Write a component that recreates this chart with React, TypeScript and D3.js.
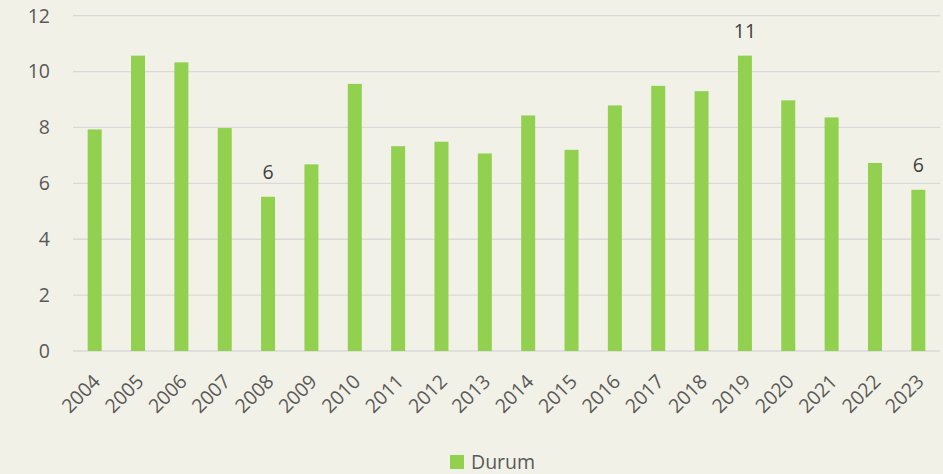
import React from "react";
import * as d3 from "d3";

const years = ["2004","2005","2006","2007","2008","2009","2010","2011","2012","2013","2014","2015","2016","2017","2018","2019","2020","2021","2022","2023"];
const durum = [7.93,10.57,10.33,7.98,5.52,6.68,9.56,7.33,7.49,7.07,8.43,7.2,8.79,9.49,9.3,10.57,8.97,8.36,6.73,5.77];
const labelled = ["2008","2019","2023"];
const yTicks = [0,2,4,6,8,10,12];
const seriesName = "Durum";

const W = 943, H = 474;
const FONT = "'Open Sans', sans-serif";

export default function App() {
  const x = d3.scaleBand<string>().domain(years).range([73, 940]).paddingInner(0.677).paddingOuter(0.3385);
  const y = d3.scaleLinear().domain([0, 12]).range([351, 15.7]);
  return (
    <svg width={W} height={H} style={{ position: "absolute", left: 0, top: 0, background: "#F2F1E7" }}>
      <rect x={0} y={0} width={W} height={H} fill="#F2F1E7" />
      {yTicks.map(t => (
        <g key={t}>
          <line x1={73} x2={940} y1={y(t)} y2={y(t)} stroke="#D9D9D9" strokeWidth={1.3} />
          <text x={50} y={y(t)} dy="0.35em" textAnchor="end" fontFamily={FONT} fontSize={19.5} fill="#595959">{t}</text>
        </g>
      ))}
      {years.map((yr, i) => (
        <rect key={yr} x={x(yr)!} y={y(durum[i])} width={x.bandwidth()} height={y(0) - y(durum[i])} fill="#92D050" />
      ))}
      {years.map((yr, i) => labelled.includes(yr) ? (
        <text key={"l" + yr} x={x(yr)! + x.bandwidth() / 2} y={y(durum[i]) - 18} textAnchor="middle" fontFamily={FONT} fontSize={19.5} fill="#404040">{Math.round(durum[i])}</text>
      ) : null)}
      {years.map(yr => {
        const cx = x(yr)! + x.bandwidth() / 2 + 2;
        return (
          <text key={"x" + yr} transform={`translate(${cx},${378}) rotate(-45)`} textAnchor="end" dy="0.35em" fontFamily={FONT} fontSize={19.5} fill="#595959">{yr}</text>
        );
      })}
      <rect x={450} y={455} width={14} height={14} fill="#92D050" />
      <text x={471} y={462} dy="0.35em" fontFamily={FONT} fontSize={19.5} fill="#595959">{seriesName}</text>
    </svg>
  );
}
